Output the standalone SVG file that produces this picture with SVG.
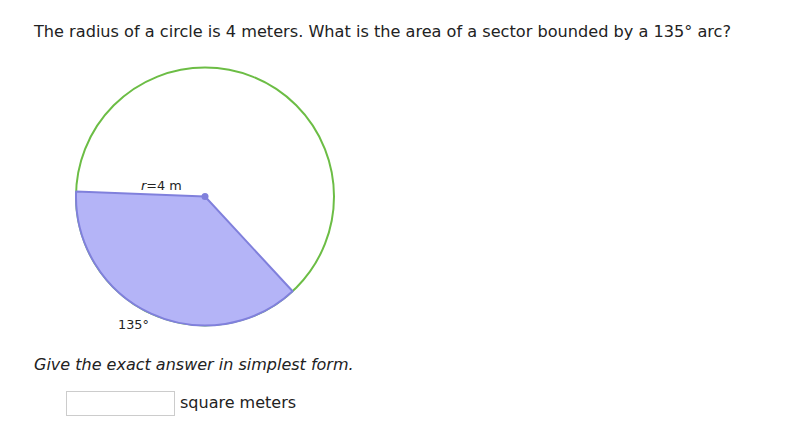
<svg xmlns="http://www.w3.org/2000/svg" width="805" height="439" viewBox="0 0 805 439">
<style>
text{font-family:"DejaVu Sans",Verdana,sans-serif;fill:#222}
.q{font-size:16px}
.s{font-size:12.8px}
</style>
<rect width="805" height="439" fill="#fff"/>
<text class="q" x="34" y="37" textLength="697" lengthAdjust="spacingAndGlyphs">The radius of a circle is 4 meters. What is the area of a sector bounded by a 135° arc?</text>
<g id="circle">
<circle cx="205" cy="196.5" r="129" fill="none" stroke="#6cbd45" stroke-width="2"/>
</g>
<g id="sector">
<path d="M205,196.5 L76.1,191.6 A129,129 0 0,0 292.6,291.2 Z" fill="#b4b4f7" stroke="#8080dc" stroke-width="2" stroke-linejoin="round"/>
<circle cx="205" cy="196.5" r="3.5" fill="#8080dc"/>
</g>
<g id="labels">
<text class="s" x="141" y="190"><tspan font-style="italic">r</tspan>=4 m</text>
<text class="s" x="118" y="329">135°</text>
</g>
<text class="q" x="34" y="370" font-style="italic">Give the exact answer in simplest form.</text>
<g id="answer">
<rect x="66.5" y="391.5" width="108" height="24" fill="#fff" stroke="#ccc"/>
<text class="q" x="180" y="408">square meters</text>
</g>
</svg>
